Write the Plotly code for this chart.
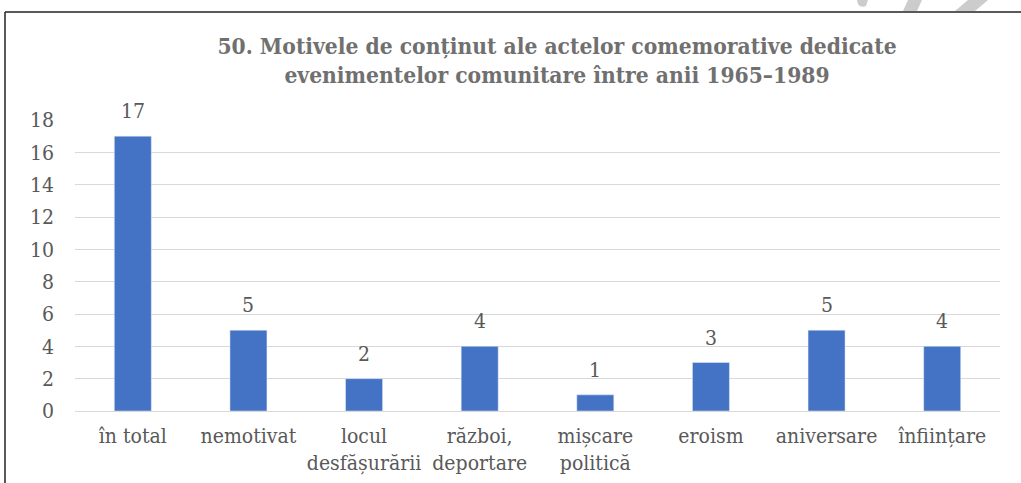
import plotly.graph_objects as go

categories = ["în total", "nemotivat", "locul<br>desfășurării", "război,<br>deportare",
              "mișcare<br>politică", "eroism", "aniversare", "înființare"]
values = [17, 5, 2, 4, 1, 3, 5, 4]
y_ticks = list(range(0, 20, 2))

title_text = ("<b>50. Motivele de conținut ale actelor comemorative dedicate<br>"
              "evenimentelor comunitare între anii 1965–1989</b>")

W, H = 1021, 483
L, R, T, B = 75, 21, 120, 72
FONT = "DejaVu Serif Condensed, DejaVu Serif, serif"
GREY = "#595959"

fig = go.Figure(go.Bar(
    x=categories, y=values,
    marker_color="#4472C4",
    hoverinfo="skip",
))

for c, v in zip(categories, values):
    fig.add_annotation(x=c, y=v, text=str(v), showarrow=False, xref="x", yref="y",
                       yanchor="bottom", yshift=11,
                       font=dict(family=FONT, size=21, color=GREY))

def px_x(p):
    return (p - L) / (W - L - R)

def px_y(p):
    return (H - B - p) / (H - T - B)

shapes = [
    # chart border (left and top)
    dict(type="line", xref="paper", yref="paper", x0=px_x(5), x1=px_x(5), y0=px_y(12), y1=px_y(490), line=dict(color="#222", width=1.5)),
    dict(type="line", xref="paper", yref="paper", x0=px_x(5), x1=px_x(1030), y0=px_y(12), y1=px_y(12), line=dict(color="#222", width=1.5)),
    # watermark fragments above border
    dict(type="path", xref="paper", yref="paper", layer="below",
         path=f"M {px_x(857)} {px_y(0)} Q {px_x(858)} {px_y(9)} {px_x(866)} {px_y(6)} L {px_x(868)} {px_y(0)} Z",
         fillcolor="#cccccc", line=dict(width=0)),
    dict(type="path", xref="paper", yref="paper", layer="below",
         path=f"M {px_x(903)} {px_y(11)} L {px_x(917)} {px_y(11)} L {px_x(922)} {px_y(0)} L {px_x(908)} {px_y(0)} Z",
         fillcolor="#cccccc", line=dict(width=0)),
    dict(type="path", xref="paper", yref="paper", layer="below",
         path=f"M {px_x(955)} {px_y(11)} L {px_x(975)} {px_y(11)} L {px_x(988)} {px_y(0)} L {px_x(968)} {px_y(0)} Z",
         fillcolor="#cccccc", line=dict(width=0)),
]

fig.update_layout(
    width=W, height=H,
    margin=dict(l=L, r=R, t=T, b=B, autoexpand=False),
    paper_bgcolor="white", plot_bgcolor="white",
    bargap=0.68,
    showlegend=False,
    title=dict(text=title_text, x=557 / W, xref="container", xanchor="center",
               y=1 - 54 / H, yanchor="middle",
               font=dict(family=FONT, size=22.6, color="#707070")),
    font=dict(family=FONT, size=21, color=GREY),
    xaxis=dict(showgrid=False, showline=False, ticks="", ticklabelstandoff=10,
               tickfont=dict(size=21, color=GREY)),
    yaxis=dict(range=[0, 18], tickvals=y_ticks, showgrid=True, gridcolor="#d9d9d9", gridwidth=1,
               zeroline=True, zerolinecolor="#d9d9d9", zerolinewidth=1,
               showline=False, ticks="", ticklabelstandoff=20,
               tickfont=dict(size=21, color=GREY)),
    shapes=shapes,
)

fig.write_html("out.html", config={"displayModeBar": False},
               post_script="document.body.style.margin='0';document.body.style.overflow='hidden';")
